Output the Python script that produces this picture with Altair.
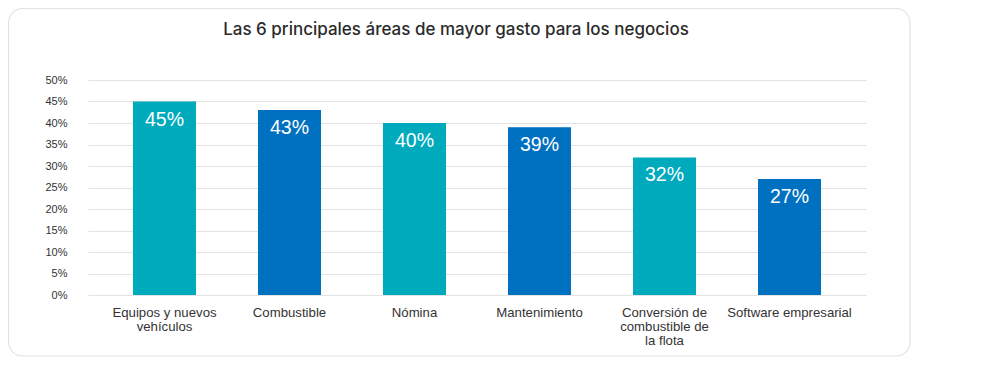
import altair as alt
import pandas as pd

categories = ["Equipos y nuevos\nvehículos", "Combustible", "Nómina", "Mantenimiento",
              "Conversión de\ncombustible de\nla flota", "Software empresarial"]
values = [45, 43, 40, 39, 32, 27]
colors = ["#00AABD", "#0071C0", "#00AABD", "#0071C0", "#00AABD", "#0071C0"]
y_ticks = [0, 5, 10, 15, 20, 25, 30, 35, 40, 45, 50]
title_text = "Las 6 principales áreas de mayor gasto para los negocios"

df = pd.DataFrame({"cat": categories, "val": [v / 100 for v in values],
                   "lbl": [f"{v}%" for v in values], "col": colors})

W, H = 778, 215

x_enc = alt.X("cat:N", sort=None,
              scale=alt.Scale(paddingInner=0.496, paddingOuter=0.36),
              axis=alt.Axis(title=None, labelAngle=0, domain=False, ticks=False,
                            labelPadding=11, labelFontSize=13.2, labelColor="#333333",
                            labelFont="Liberation Sans", labelLineHeight=14,
                            labelExpr="split(datum.label, '\\n')", labelBaseline="top"))
y_enc = alt.Y("val:Q", scale=alt.Scale(domain=[0, 0.5]),
              axis=alt.Axis(title=None, format=".0%", values=[t / 100 for t in y_ticks],
                            domain=False, ticks=False, labelPadding=21, labelOverlap=False,
                            labelFontSize=11, labelColor="#333333", labelFont="Liberation Sans",
                            gridColor="#e3e3e3", gridWidth=1))

base = alt.Chart(df).encode(x=x_enc, y=y_enc)

frame = alt.Chart(pd.DataFrame({"a": [0]})).mark_rect(
    fillOpacity=0, stroke="#e2e2e2", strokeWidth=1.2, cornerRadius=14
).encode(x=alt.value(-79.5), x2=alt.value(822), y=alt.value(-71.5), y2=alt.value(276))

bars = base.mark_bar().encode(color=alt.Color("col:N", scale=None))

text = base.mark_text(color="white", fontSize=19.5, font="Liberation Sans",
                      baseline="middle", dy=18).encode(text="lbl:N")

chart = alt.layer(frame, bars, text).properties(
    width=W, height=H,
    title=alt.TitleParams(title_text, fontSize=17, font="Inter", fontWeight=500,
                          color="#2b2b2b", anchor="middle", dx=-21, offset=-31),
    padding={"left": 80, "top": 72, "right": 60, "bottom": 62},
    autosize=alt.AutoSizeParams(type="none"),
).configure_view(stroke=None)

chart.save("out.html", embed_options={"renderer": "svg", "actions": False})
